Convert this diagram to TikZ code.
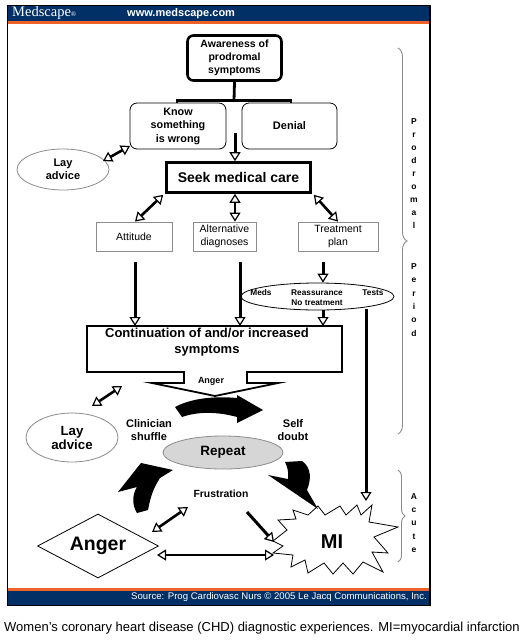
\documentclass[tikz,border=0pt]{standalone}
\usepackage{fontspec}
\setmainfont{Liberation Sans}
\newfontfamily\headserif{Liberation Serif}
\usetikzlibrary{arrows.meta,decorations.pathreplacing,shapes.geometric,calc}
\definecolor{navy}{RGB}{0,48,102}
\definecolor{orng}{RGB}{236,98,40}
\definecolor{boxgray}{RGB}{140,140,140}
\definecolor{repfill}{RGB}{214,214,214}
\newcommand{\myfsz}[2]{\fontsize{#1}{#2}\selectfont}
\tikzset{
  hh/.tip={Triangle[fill=white,length=9pt,width=11pt,line width=1.2pt]},
  harrow/.style={line width=3pt,-hh},
  hdarrow/.style={line width=2.6pt,hh-hh},
  txt/.style={align=center,inner sep=0pt,text=black},
  roundbox/.style={draw,line width=0.8pt,rounded corners=7pt,align=center,inner sep=0pt},
  graybox/.style={draw=boxgray,line width=0.8pt,align=center,inner sep=0pt,font=\myfsz{10.5}{13}},
  grayell/.style={ellipse,draw=boxgray,line width=0.8pt,align=center,inner sep=0pt},
  blackarrow/.style={fill=black},
  bracestyle/.style={draw=boxgray,line width=0.9pt,decorate,decoration={brace,amplitude=9pt}},
  vlet/.style={txt,font=\myfsz{8.5}{13.4}\bfseries},
}
\begin{document}
\begin{tikzpicture}[x=1pt,y=-1pt]
\useasboundingbox (0,0) rectangle (524,640);
\fill[white] (0,0) rectangle (524,640);
% header / footer
\fill[navy] (7,5) rectangle (430,21);
\fill[orng] (7,21) rectangle (430,23.5);
\fill[orng] (7,588) rectangle (430,590.5);
\fill[navy] (7,590.5) rectangle (430,605);
\draw[line width=0.8pt] (7,5) rectangle (430,605);
\draw[line width=2pt] (429.5,5) -- (429.5,605);
\node[anchor=west,inner sep=0pt,text=white,font=\headserif\myfsz{14.5}{14}] (brand) at (12,13.5) {Medscape{\myfsz{7}{7}\raisebox{0.3ex}{\textregistered}}};
\node[anchor=west,inner sep=0pt,text=white,font=\myfsz{11}{11}\bfseries] (url) at (127,13.5) {www.medscape.com};
\node[anchor=east,inner sep=0pt,text=white,font=\myfsz{9.6}{9}] (src) at (427,597.5) {Source: Prog Cardiovasc Nurs \textcopyright\ 2005 Le Jacq Communications, Inc.};
\node[anchor=west,inner sep=0pt,font=\myfsz{13}{14}] (cap) at (4,628) {Women's coronary heart disease (CHD) diagnostic experiences. MI=myocardial infarction};

% top boxes
\node[draw,line width=2.6pt,rounded corners=6pt,minimum width=94pt,minimum height=45pt,align=center,inner sep=0pt,font=\myfsz{10.5}{13}\bfseries] (aw) at (234.5,58) {Awareness of\\prodromal\\symptoms};
\node[roundbox,minimum width=96pt,minimum height=46pt,font=\myfsz{10.8}{13.5}\bfseries] (know) at (178,126) {Know\\something\\is wrong};
\node[roundbox,minimum width=95pt,minimum height=46pt,font=\myfsz{11}{13.5}\bfseries] (denial) at (289.5,126) {Denial};
\coordinate (bmid) at (234,100.5);
\coordinate (bl) at (177,103);
\coordinate (br) at (291,103);
\draw[line width=2.8pt] (aw.south) -- (bmid);
\draw[line width=2.8pt] (bl) -- (bl |- bmid) -- (br |- bmid) -- (br);

\node[draw,line width=2.6pt,minimum width=144pt,minimum height=30pt,inner sep=0pt,font=\myfsz{14}{14}\bfseries] (seek) at (238.5,177.5) {Seek medical care};
\coordinate (dstart) at (235,133);
\draw[harrow] (dstart) -- (dstart |- seek.north);

\node[grayell,minimum width=92pt,minimum height=41pt,font=\myfsz{11}{13}\bfseries] (lay1) at (63,169.5) {Lay\\advice};
\coordinate (k1) at (130,146);
\coordinate (k2) at (103,161);
\draw[hdarrow] (k1) -- (k2);

\node[graybox,minimum width=76pt,minimum height=29pt] (att) at (134,236.5) {Attitude};
\node[graybox,minimum width=63pt,minimum height=29pt] (alt) at (224.5,236.5) {Alternative\\diagnoses};
\node[graybox,minimum width=80pt,minimum height=29pt] (treat) at (338,236.5) {Treatment\\plan};
\coordinate (xa) at (235,200);
\draw[hdarrow] ($(seek.south west)+(-2,1)$) -- ($(att.north)+(1,0)$);
\draw[hdarrow] (seek.south -| xa) -- (alt.north -| xa);
\draw[hdarrow] ($(seek.south east)+(2,1)$) -- (treat.north);

% continuation shape
\coordinate (c1) at (87,326);
\coordinate (c2) at (342,326);
\coordinate (c3) at (342,372);
\coordinate (c4) at (247,372);
\coordinate (c5) at (247,383);
\coordinate (c6) at (278,383);
\coordinate (ctip) at (215,396);
\coordinate (c8) at (152,383);
\coordinate (c9) at (184,383);
\coordinate (c10) at (184,372);
\coordinate (c11) at (87,372);
\draw[line width=1.8pt,line join=miter] (c1) -- (c2) -- (c3) -- (c4) -- (c5) -- (c6) -- (ctip) -- (c8) -- (c9) -- (c10) -- (c11) -- cycle;
\node[txt,font=\myfsz{13}{15.5}\bfseries] (cont) at (207,342) {Continuation of and/or increased\\symptoms};
\node[txt,font=\myfsz{9}{9}\bfseries] (angr) at (211,381) {Anger};

% meds ellipse
\node[ellipse,draw,line width=0.8pt,minimum width=153pt,minimum height=27pt,inner sep=0pt] (meds) at (317.5,296.5) {};
\node[txt,font=\myfsz{8.3}{8}\bfseries] (medst) at (261,293) {Meds};
\node[txt,font=\myfsz{8.3}{8}\bfseries] (reas) at (317,293) {Reassurance};
\node[txt,font=\myfsz{8.3}{8}\bfseries] (tests) at (373,293) {Tests};
\node[txt,font=\myfsz{8.3}{8}\bfseries] (notr) at (317,302.5) {No treatment};

\coordinate (ya) at (0,262);
\coordinate (xat) at (135,0);
\coordinate (xal) at (240,0);
\coordinate (xtr) at (323,0);
\coordinate (lstart) at (366,309);
\draw[harrow] (xat |- ya) -- (xat |- c1);
\draw[harrow] (xal |- ya) -- (xal |- c1);
\draw[harrow] (xtr |- ya) -- (xtr |- meds.north);
\draw[harrow] (xtr |- meds.south) -- (xtr |- c1);
\coordinate (mitop) at (366,501);
\draw[harrow] (lstart) -- (mitop);

% lower part
\node[grayell,minimum width=92pt,minimum height=49pt,font=\myfsz{13.3}{14}\bfseries] (lay2) at (72,437.5) {Lay\\advice};
\coordinate (l1) at (92,406);
\coordinate (l2) at (122,386);
\draw[hdarrow] (l1) -- (l2);

\node[ellipse,draw=boxgray,fill=repfill,line width=0.8pt,minimum width=120pt,minimum height=33pt,inner sep=0pt,font=\myfsz{13.5}{14}\bfseries] (rep) at (223,452.5) {Repeat};
\node[txt,font=\myfsz{11}{13}\bfseries] (clin) at (149,430) {Clinician\\shuffle};
\node[txt,font=\myfsz{11}{13}\bfseries] (selfd) at (293,430) {Self\\doubt};
\node[txt,font=\myfsz{10.4}{11}\bfseries] (frus) at (221,494) {Frustration};

% curved black arrows
\fill[blackarrow] (175,407) .. controls (192,398) and (215,396) .. (237,398)
  -- (237,395) -- (263,410) -- (237,423) -- (237,417)
  .. controls (215,411) and (196,412) .. (182,417) -- cycle;
\fill[blackarrow] (285,462) -- (302,461) .. controls (312,468) and (311,480) .. (307,490)
  -- (318,509) -- (268,475) -- (288,479)
  .. controls (289,472) and (287,466) .. (285,462) -- cycle;
\fill[blackarrow] (137,513) -- (148,510) .. controls (150,500) and (152,490) .. (160,478)
  -- (173,470) -- (141,463) -- (118,492) -- (137,487)
  .. controls (132,495) and (132,505) .. (137,513) -- cycle;

% anger diamond & MI
\node[diamond,draw,line width=0.8pt,aspect=1.9,minimum width=121pt,minimum height=64pt,inner sep=0pt,font=\myfsz{19.5}{20}\bfseries] (anger) at (98,546) {Anger};
\draw[line width=0.8pt,line join=miter] (273,541) -- (287,530) -- (278,520) -- (296,519) -- (293,510) -- (308,515) -- (318,506) -- (325,515) -- (340,506) -- (346,515) -- (357,505) -- (361,515) -- (372,505) -- (369,522) -- (398,527) -- (374,537) -- (388,553) -- (372,552) -- (383,572) -- (363,562) -- (353,574) -- (343,563) -- (333,574) -- (324,563) -- (308,573) -- (305,560) -- (291,567) -- (293,555) -- (273,553) -- (283,546) -- cycle;
\node[txt,font=\myfsz{20}{20}\bfseries] (mi) at (332,542) {MI};

\coordinate (a1) at (152,532);
\coordinate (a2) at (188,507);
\coordinate (f1) at (247,512);
\coordinate (f2) at (274,542);
\coordinate (h1) at (157,555);
\coordinate (h2) at (274,555);
\draw[hdarrow] (a1) -- (a2);
\draw[harrow] (f1) -- (f2);
\draw[hdarrow] (h1) -- (h2);

% braces and period labels
\coordinate (pb1) at (398,48);
\coordinate (pb2) at (398,434);
\coordinate (ab1) at (398,470);
\coordinate (ab2) at (398,562);
\draw[bracestyle] (pb1) -- (pb2);
\draw[bracestyle,decoration={amplitude=7pt}] (ab1) -- (ab2);
\node[vlet,font=\myfsz{8.5}{13}\bfseries] (prod) at (414,174) {P\\r\\o\\d\\r\\o\\m\\a\\l};
\node[vlet] (peri) at (414,300) {P\\e\\r\\i\\o\\d};
\node[vlet] (acu) at (414,523) {A\\c\\u\\t\\e};
\end{tikzpicture}
\end{document}
